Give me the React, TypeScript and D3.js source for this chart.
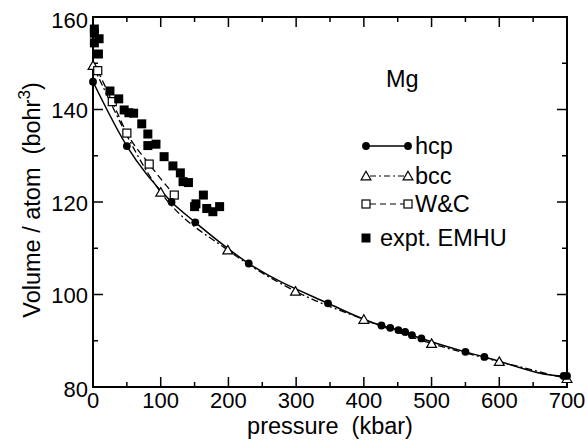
import { useRef, useEffect } from "react";
import * as d3 from "d3";

// hcp (calc.)
const hcpP = [0, 50, 116, 151, 230, 347, 426, 439, 451, 461, 471, 485, 550, 578, 695, 700];
const hcpV = [146, 132.1, 120, 115.6, 106.7, 98.1, 93.3, 92.8, 92.3, 91.9, 91.2, 90.5, 87.6, 86.5, 82.4, 82.4];

// bcc (calc.)
const bccP = [0, 100, 199, 299, 400, 500, 600, 700];
const bccV = [149.5, 122.1, 109.6, 100.7, 94.6, 89.4, 85.5, 81.8];

// W&C
const wcP = [7, 28.5, 50, 83, 120];
const wcV = [148.4, 141.7, 134.9, 128.2, 121.5];

// expt. EMHU
const exP = [2, 2, 2, 9, 8, 25, 38, 46, 53, 60, 72, 81, 81, 93, 105, 118, 129, 133, 141, 163, 150, 152, 168, 177, 187];
const exV = [157.4, 156.5, 154.4, 155.3, 152, 144, 142.3, 139.9, 139.3, 139.2, 136.9, 134.7, 132.2, 132.5, 129.8, 127.8, 126.3, 124.4, 124.2, 121.5, 119, 119.6, 118.6, 117.9, 119];

const xTicks = [0, 100, 200, 300, 400, 500, 600, 700];
const yTicks = [80, 100, 120, 140, 160];
const legendLabels = ["hcp", "bcc", "W&C", "expt. EMHU"];

const W = 587;
const H = 440;
const FONT = "'Liberation Sans', Arial, sans-serif";

export default function App() {
  const ref = useRef<SVGSVGElement>(null);

  useEffect(() => {
    const svg = d3.select(ref.current);
    svg.selectAll("*").remove();

    const x = d3.scaleLinear().domain([0, 700]).range([93, 567]);
    const y = d3.scaleLinear().domain([80, 160]).range([387, 17]);
    const [x0, x1] = x.range();
    const [y0, y1] = y.range();

    const g = svg.append("g");

    // ticks, pointing inward on all four sides
    const minorX = d3.range(50, 700, 100);
    const minorY = d3.range(90, 160, 20);
    const tk = g.append("g").attr("stroke", "#000").attr("stroke-width", 1.5);
    xTicks.concat(minorX).forEach((t) => {
      const len = xTicks.includes(t) ? 10 : 5;
      tk.append("line").attr("x1", x(t)).attr("x2", x(t)).attr("y1", y0).attr("y2", y0 - len);
      tk.append("line").attr("x1", x(t)).attr("x2", x(t)).attr("y1", y1).attr("y2", y1 + len);
    });
    yTicks.concat(minorY).forEach((t) => {
      const len = yTicks.includes(t) ? 10 : 5;
      tk.append("line").attr("y1", y(t)).attr("y2", y(t)).attr("x1", x0).attr("x2", x0 + len);
      tk.append("line").attr("y1", y(t)).attr("y2", y(t)).attr("x1", x1).attr("x2", x1 - len);
    });

    // frame
    g.append("rect")
      .attr("x", x0)
      .attr("y", y1)
      .attr("width", x1 - x0)
      .attr("height", y0 - y1)
      .attr("fill", "none")
      .attr("stroke", "#000")
      .attr("stroke-width", 2);

    // tick labels
    g.selectAll(".xl")
      .data(xTicks)
      .enter()
      .append("text")
      .attr("x", (d) => x(d))
      .attr("y", 408)
      .attr("text-anchor", "middle")
      .style("font", `22px ${FONT}`)
      .text((d) => d);
    g.selectAll(".yl")
      .data(yTicks)
      .enter()
      .append("text")
      .attr("x", 88)
      .attr("y", (d) => y(d) + (d === 160 ? 11 : d === 80 ? 10 : 8.5))
      .attr("text-anchor", "end")
      .style("font", `22px ${FONT}`)
      .text((d) => d);

    // axis titles
    g.append("text")
      .attr("x", 330)
      .attr("y", 434)
      .attr("text-anchor", "middle")
      .style("font", `23.5px ${FONT}`)
      .attr("xml:space", "preserve")
      .text("pressure  (kbar)");
    const yt = g
      .append("text")
      .attr("transform", "translate(40,200) rotate(-90)")
      .attr("text-anchor", "middle")
      .attr("xml:space", "preserve")
      .style("font", `23.5px ${FONT}`);
    yt.append("tspan").text("Volume / atom  (bohr");
    yt.append("tspan").attr("dy", -10).style("font-size", "17px").text("3");
    yt.append("tspan").attr("dy", 10).text(")");

    const mk = (P: number[], V: number[]) => P.map((p, i) => [p, V[i]] as [number, number]);
    const line = d3
      .line<[number, number]>()
      .x((d) => x(d[0]))
      .y((d) => y(d[1]))
      .curve(d3.curveMonotoneX);

    const hcp = mk(hcpP, hcpV);
    const bcc = mk(bccP, bccV);
    const wc = mk(wcP, wcV);
    const ex = mk(exP, exV);

    g.append("path").attr("d", line(bcc)).attr("fill", "none").attr("stroke", "#000")
      .attr("stroke-width", 1.3).attr("stroke-dasharray", "7,3,2,3");
    g.append("path").attr("d", line(wc)).attr("fill", "none").attr("stroke", "#000")
      .attr("stroke-width", 1.3).attr("stroke-dasharray", "7,4");
    g.append("path").attr("d", line(hcp)).attr("fill", "none").attr("stroke", "#000")
      .attr("stroke-width", 1.5);

    const tri = d3.symbol().type(d3.symbolTriangle).size(42);
    const drawTri = (sel: any, px: number, py: number) =>
      sel.append("path").attr("d", tri()).attr("transform", `translate(${px},${py + 1})`)
        .attr("fill", "#fff").attr("stroke", "#000").attr("stroke-width", 1.2);
    const drawOpenSq = (sel: any, px: number, py: number) =>
      sel.append("rect").attr("x", px - 4).attr("y", py - 4).attr("width", 8).attr("height", 8)
        .attr("fill", "#fff").attr("stroke", "#000").attr("stroke-width", 1.2);
    const drawFillSq = (sel: any, px: number, py: number) =>
      sel.append("rect").attr("x", px - 4.5).attr("y", py - 4.5).attr("width", 9).attr("height", 9)
        .attr("fill", "#000");
    const drawDot = (sel: any, px: number, py: number) =>
      sel.append("circle").attr("cx", px).attr("cy", py).attr("r", 3.9).attr("fill", "#000");

    bcc.forEach((d) => drawTri(g, x(d[0]), y(d[1])));
    wc.forEach((d) => drawOpenSq(g, x(d[0]), y(d[1])));
    hcp.forEach((d) => drawDot(g, x(d[0]), y(d[1])));
    ex.forEach((d) => drawFillSq(g, x(d[0]), y(d[1])));

    // legend
    const lg = svg.append("g");
    lg.append("text").attr("x", 386).attr("y", 87).style("font", `23.5px ${FONT}`).text("Mg");
    const rows = [146, 176, 204, 238];
    const lx0 = 366;
    const lx1 = 408;
    lg.append("line").attr("x1", lx0).attr("x2", lx1).attr("y1", rows[0]).attr("y2", rows[0])
      .attr("stroke", "#000").attr("stroke-width", 1.5);
    drawDot(lg, lx0, rows[0]);
    drawDot(lg, lx1, rows[0]);
    lg.append("line").attr("x1", lx0 + 4).attr("x2", lx1 - 4).attr("y1", rows[1]).attr("y2", rows[1])
      .attr("stroke", "#000").attr("stroke-width", 1.2).attr("stroke-dasharray", "6,3,2,3");
    drawTri(lg, lx0, rows[1]);
    drawTri(lg, lx1, rows[1]);
    lg.append("line").attr("x1", lx0 + 4).attr("x2", lx1 - 4).attr("y1", rows[2]).attr("y2", rows[2])
      .attr("stroke", "#000").attr("stroke-width", 1.2).attr("stroke-dasharray", "6,4");
    drawOpenSq(lg, lx0, rows[2]);
    drawOpenSq(lg, lx1, rows[2]);
    drawFillSq(lg, lx0, rows[3]);
    lg.selectAll(".lt")
      .data(legendLabels)
      .enter()
      .append("text")
      .attr("x", (_, i) => (i === 3 ? 380 : 415))
      .attr("y", (_, i) => rows[i] + 7.5)
      .style("font", `23.5px ${FONT}`)
      .text((d) => d);
  }, []);

  return (
    <svg
      ref={ref}
      width={W}
      height={H}
      style={{ position: "absolute", left: 0, top: 0, background: "#fff" }}
    />
  );
}
